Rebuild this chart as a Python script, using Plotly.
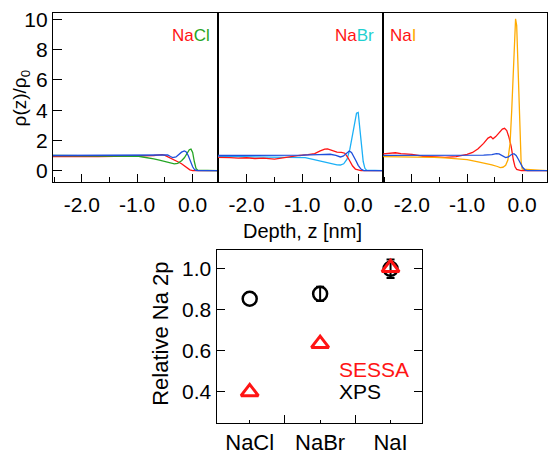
import plotly.graph_objects as go

W, H = 548, 455

# ---------------- top panels: density profiles ----------------
# NaCl panel
cl_na_depth = [-2.55, -2.3, -2.0, -1.7, -1.4, -1.1, -0.9, -0.7, -0.6, -0.55, -0.5, -0.45, -0.4,
               -0.35, -0.3, -0.25, -0.2, -0.15, -0.1, -0.05, 0.0, 0.45]
cl_na_rho = [0.93, 0.92, 0.94, 0.93, 0.95, 0.96, 0.98, 1.0, 1.04, 1.05, 1.0, 0.92, 0.82,
             0.72, 0.63, 0.55, 0.45, 0.3, 0.15, 0.05, 0.0, 0.0]
cl_x_depth = [-2.55, -2.0, -1.5, -1.2, -1.0, -0.9, -0.8, -0.7, -0.6, -0.5, -0.4, -0.33, -0.27,
              -0.2, -0.15, -0.1, -0.06, -0.03, 0.0, 0.03, 0.06, 0.09, 0.45]
cl_x_rho = [1.0, 1.0, 0.98, 0.97, 0.95, 0.9, 0.85, 0.78, 0.7, 0.62, 0.52, 0.45, 0.48,
            0.65, 0.85, 1.15, 1.38, 1.42, 1.2, 0.6, 0.15, 0.02, 0.0]
cl_w_depth = [-2.55, -2.2, -1.8, -1.4, -1.0, -0.8, -0.6, -0.5, -0.45, -0.4, -0.36, -0.3, -0.25,
              -0.2, -0.15, -0.12, -0.08, -0.04, 0.0, 0.03, 0.06, 0.1, 0.45]
cl_w_rho = [1.0, 1.0, 1.01, 1.0, 1.0, 1.01, 1.02, 1.04, 1.03, 0.93, 0.86, 0.9, 1.05,
            1.22, 1.3, 1.25, 1.0, 0.6, 0.25, 0.08, 0.02, 0.0, 0.0]

# NaBr panel
br_na_depth = [-2.55, -2.4, -2.3, -2.15, -2.0, -1.85, -1.7, -1.5, -1.35, -1.2, -1.05, -0.9, -0.78,
               -0.68, -0.6, -0.55, -0.5, -0.45, -0.38, -0.3, -0.24, -0.19, -0.14, -0.1, -0.05,
               0.0, 0.05, 0.45]
br_na_rho = [0.88, 0.84, 0.86, 0.83, 0.85, 0.8, 0.82, 0.76, 0.85, 0.95, 1.0, 1.06, 1.12,
             1.3, 1.42, 1.44, 1.38, 1.3, 1.22, 1.2, 1.15, 0.9, 0.55, 0.3, 0.1,
             0.03, 0.0, 0.0]
br_x_depth = [-2.55, -2.2, -1.9, -1.6, -1.3, -1.1, -0.95, -0.85, -0.75, -0.65, -0.55, -0.45,
              -0.38, -0.32, -0.26, -0.2, -0.15, -0.1, -0.06, -0.03, 0.0, 0.03, 0.06, 0.09,
              0.12, 0.15, 0.45]
br_x_rho = [0.95, 0.93, 0.92, 0.9, 0.9, 0.88, 0.86, 0.78, 0.7, 0.6, 0.5, 0.43,
            0.38, 0.37, 0.45, 0.75, 1.4, 2.4, 3.3, 3.8, 3.85, 2.8, 1.6, 0.6,
            0.15, 0.02, 0.0]
br_w_depth = [-2.55, -2.0, -1.5, -1.0, -0.7, -0.5, -0.4, -0.32, -0.27, -0.2, -0.16, -0.12,
              -0.08, -0.04, 0.0, 0.05, 0.1, 0.45]
br_w_rho = [1.0, 1.0, 1.01, 1.02, 1.05, 1.08, 1.0, 0.9, 0.95, 1.2, 1.29, 1.2,
            0.95, 0.65, 0.35, 0.1, 0.0, 0.0]

# NaI panel
i_na_depth = [-2.55, -2.4, -2.3, -2.2, -2.0, -1.8, -1.6, -1.5, -1.4, -1.2, -1.1, -1.0, -0.9,
              -0.8, -0.7, -0.62, -0.57, -0.53, -0.48, -0.42, -0.36, -0.32, -0.28, -0.24,
              -0.2, -0.16, -0.13, -0.1, -0.06, -0.02, 0.45]
i_na_rho = [1.1, 1.15, 1.18, 1.12, 1.07, 0.95, 0.9, 0.86, 0.88, 0.93, 1.0, 1.07, 1.2,
            1.45, 1.8, 2.15, 2.25, 2.1, 2.25, 2.5, 2.75, 2.8, 2.65, 2.2,
            1.6, 0.7, 0.25, 0.08, 0.02, 0.0, 0.0]
i_x_depth = [-2.55, -2.2, -1.9, -1.6, -1.4, -1.2, -1.0, -0.8, -0.65, -0.55, -0.45, -0.4,
             -0.35, -0.3, -0.26, -0.22, -0.19, -0.16, -0.14, -0.12, -0.1, -0.08, -0.06,
             -0.04, -0.02, 0.0, 0.45]
i_x_rho = [0.93, 0.92, 0.9, 0.88, 0.84, 0.8, 0.72, 0.58, 0.48, 0.38, 0.27, 0.2,
           0.22, 0.35, 0.7, 1.8, 4.0, 7.0, 9.0, 10.05, 9.6, 7.5, 4.5,
           2.0, 0.6, 0.1, 0.0]
i_w_depth = [-2.55, -2.0, -1.5, -1.0, -0.7, -0.55, -0.47, -0.42, -0.36, -0.3, -0.25, -0.2,
             -0.15, -0.11, -0.07, -0.03, 0.01, 0.05, 0.09, 0.45]
i_w_rho = [1.0, 1.0, 1.0, 1.0, 1.02, 1.06, 1.12, 1.1, 0.95, 0.86, 0.9, 1.05,
           1.12, 1.0, 0.75, 0.45, 0.2, 0.05, 0.0, 0.0]

depth_ticks = [-2.0, -1.0, 0.0]
depth_ticktext = ["-2.0", "-1.0", "0.0"]
rho_ticks = [0, 2, 4, 6, 8, 10]

# ---------------- bottom panel ----------------
salts = ["NaCl", "NaBr", "NaI"]
xps = [0.854, 0.878, 1.0]
xps_err = [0.0, 0.035, 0.045]
sessa = [0.40, 0.635, 1.005]
rel_ticks = [0.4, 0.6, 0.8, 1.0]
rel_ticktext = ["0.4", "0.6", "0.8", "1.0"]

RED = "#ff1414"
GREEN = "#25a525"
BLUE = "#1f4fdc"
CYAN = "#1cb0f6"
ORANGE = "#ffab00"
FONT = "Liberation Sans, Arial, sans-serif"

fig = go.Figure()

def line(x, y, color, ax):
    fig.add_trace(go.Scatter(x=x, y=y, mode="lines", line=dict(color=color, width=1.3),
                             xaxis="x" + ax, yaxis="y" + ax, showlegend=False,
                             hoverinfo="skip"))

line(cl_na_depth, cl_na_rho, RED, "")
line(cl_x_depth, cl_x_rho, GREEN, "")
line(cl_w_depth, cl_w_rho, BLUE, "")
line(br_x_depth, br_x_rho, CYAN, "2")
line(br_na_depth, br_na_rho, RED, "2")
line(br_w_depth, br_w_rho, BLUE, "2")
line(i_na_depth, i_na_rho, RED, "3")
line(i_x_depth, i_x_rho, ORANGE, "3")
line(i_w_depth, i_w_rho, BLUE, "3")

xcat = list(range(len(salts)))
# error bars only where an uncertainty is shown
err_idx = [i for i, e in enumerate(xps_err) if e > 0]
fig.add_trace(go.Scatter(x=[xcat[i] for i in err_idx], y=[xps[i] for i in err_idx],
                         mode="markers", xaxis="x4", yaxis="y4",
                         marker=dict(size=1, color="rgba(0,0,0,0)"),
                         error_y=dict(type="data", array=[xps_err[i] for i in err_idx],
                                      color="black", thickness=2, width=4),
                         showlegend=False, hoverinfo="skip"))
fig.add_trace(go.Scatter(x=xcat, y=xps, mode="markers", xaxis="x4", yaxis="y4",
                         marker=dict(symbol="circle-open", size=14, color="black",
                                     line=dict(width=2.5, color="black")),
                         showlegend=False))
fig.add_trace(go.Scatter(x=xcat, y=sessa, mode="markers", xaxis="x4", yaxis="y4",
                         marker=dict(symbol="triangle-up-open", size=15, color=RED,
                                     line=dict(width=3, color=RED)),
                         showlegend=False))

def px(x):
    return x / W

def py(y):
    return 1 - y / H

top_dom = [py(182), py(8)]
xdoms = [[px(53), px(218)], [px(218), px(384)], [px(384), px(548)]]
tickfont = dict(family=FONT, size=21, color="black")

def top_xaxis(dom, anchor):
    return dict(domain=dom, anchor=anchor, range=[-2.52, 0.45],
                tickmode="array", tickvals=depth_ticks, ticktext=depth_ticktext,
                ticks="inside", ticklen=8, tickwidth=1, tickcolor="black",
                minor=dict(tickmode="array", tickvals=[-2.5, -1.5, -0.5], ticks="inside",
                           ticklen=5, tickwidth=1, tickcolor="black"),
                showline=True, linecolor="black", linewidth=1, mirror=True,
                showgrid=False, zeroline=False, tickfont=tickfont,
                ticklabelstandoff=4)

def top_yaxis(anchor, labels):
    return dict(domain=top_dom, anchor=anchor, range=[-0.77, 10.45],
                tickmode="array", tickvals=rho_ticks,
                ticks="inside" if labels else "", ticklen=9, tickwidth=1,
                tickcolor="black", showticklabels=labels,
                showline=True, linecolor="black", linewidth=1, mirror=True,
                showgrid=False, zeroline=False, tickfont=tickfont)

fig.update_layout(
    width=W, height=H, margin=dict(l=0, r=0, t=0, b=0),
    paper_bgcolor="white", plot_bgcolor="white",
    font=dict(family=FONT, color="black"),
    xaxis=top_xaxis(xdoms[0], "y"),
    yaxis=top_yaxis("x", True),
    xaxis2=top_xaxis(xdoms[1], "y2"),
    yaxis2=top_yaxis("x2", False),
    xaxis3=top_xaxis(xdoms[2], "y3"),
    yaxis3=top_yaxis("x3", False),
    xaxis4=dict(domain=[px(217), px(423)], anchor="y4", range=[-0.47, 2.45],
                tickmode="array", tickvals=xcat, ticktext=salts,
                ticks="inside", ticklen=3, tickwidth=1, tickcolor="black",
                minor=dict(tickmode="array", tickvals=[0.5, 1.5], ticks="inside",
                           ticklen=8, tickwidth=1, tickcolor="black"),
                showline=True, linecolor="black", linewidth=1.2, mirror=True,
                showgrid=False, zeroline=False,
                tickfont=dict(family=FONT, size=22, color="black")),
    yaxis4=dict(domain=[py(429), py(252)], anchor="x4", range=[0.25, 1.09],
                tickmode="array", tickvals=rel_ticks, ticktext=rel_ticktext,
                ticks="inside", ticklen=8, tickwidth=1, tickcolor="black",
                showline=True, linecolor="black", linewidth=1.2, mirror="ticks",
                showgrid=False, zeroline=False, tickfont=tickfont),
)

def ann(text, x, y, size, xanchor="center", angle=0, color="black"):
    fig.add_annotation(text=text, x=px(x), y=py(y), xref="paper", yref="paper",
                       xanchor=xanchor, yanchor="middle", showarrow=False,
                       textangle=angle, font=dict(family=FONT, size=size, color=color))

ann("ρ(z)/ρ<sub>0</sub>", 22, 96, 19, angle=-90)
ann("Depth, z [nm]", 303, 232, 20)
ann("Relative Na 2p", 160, 338, 22, angle=-90)
ann(f"<span style='color:{RED}'>Na</span><span style='color:{GREEN}'>Cl</span>", 212, 31, 17, xanchor="right")
ann(f"<span style='color:{RED}'>Na</span><span style='color:#1fd0d0'>Br</span>", 377, 31, 17, xanchor="right")
ann(f"<span style='color:{RED}'>Na</span><span style='color:{ORANGE}'>I</span>", 389, 31, 17, xanchor="left")
ann("SESSA", 338, 374, 21, xanchor="left", color=RED)
ann("XPS", 338, 397, 21, xanchor="left")

fig.write_html("out.html")
